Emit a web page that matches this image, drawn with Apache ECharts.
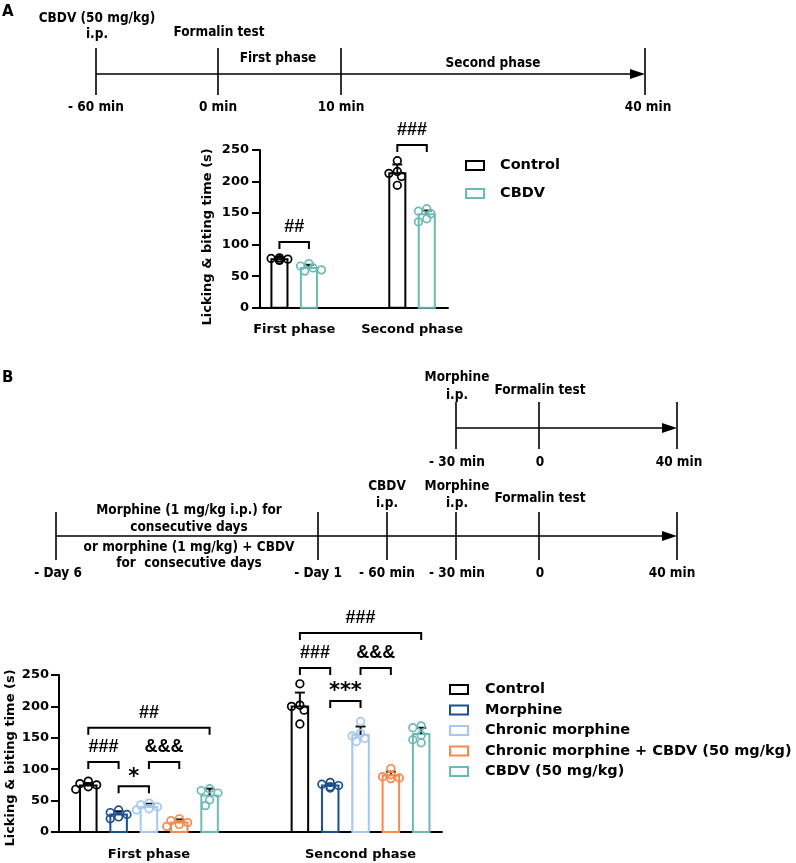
<!DOCTYPE html>
<html><head><meta charset="utf-8">
<script src="https://cdn.jsdelivr.net/npm/echarts@6/dist/echarts.min.js"></script>
<style>html,body{margin:0;padding:0;background:#fff}#c{width:796px;height:863px}</style>
</head><body><div id="c"></div>
<script>
// ---------------- DATA ----------------
// Panel A
const phasesA = ['First phase', 'Second phase'];
const groupsA = ['Control', 'CBDV'];
const meanA = [[77, 213], [63, 148]];           // [group][phase]
const sdA = [[2, 14], [5, 6]];
const dotsA = [
  [[79, 78, 77, 76, 75], [233, 216, 213, 208, 194]],
  [[70, 66, 63, 60, 58], [157, 153, 149, 141, 136]]
];
const bracketsA = [
  { phase: 0, from: 0, to: 1, level: 104, text: '##' },
  { phase: 1, from: 0, to: 1, level: 258, text: '###' }
];
// Panel B
const phasesB = ['First phase', 'Sencond phase'];
const groupsB = ['Control', 'Morphine', 'Chronic morphine', 'Chronic morphine + CBDV (50 mg/kg)', 'CBDV (50 mg/kg)'];
const meanB = [[74, 200], [28, 74], [40, 155], [15, 90], [58, 156]];
const sdB = [[4, 22], [5, 3], [5, 13], [5, 6], [11, 10]];
const dotsB = [
  [[81, 77, 75, 72, 68], [236, 202, 200, 194, 172]],
  [[35, 31, 28, 24, 21], [79, 76, 74, 72, 70]],
  [[46, 43, 40, 37, 35], [176, 157, 153, 149, 144]],
  [[21, 18, 15, 12, 9], [101, 91, 88, 86, 85]],
  [[69, 66, 62, 51, 42], [169, 166, 154, 147, 142]]
];
const bracketsB = [
  { phase: 0, from: 0, to: 4, level: 166, text: '##' },
  { phase: 0, from: 0, to: 1, level: 111.5, text: '###' },
  { phase: 0, from: 1, to: 2, level: 73, text: '*' },
  { phase: 0, from: 2, to: 3, level: 111.5, text: '&&&' },
  { phase: 1, from: 0, to: 4, level: 317, text: '###' },
  { phase: 1, from: 0, to: 1, level: 261, text: '###' },
  { phase: 1, from: 1, to: 2, level: 208.6, text: '***' },
  { phase: 1, from: 2, to: 3, level: 261, text: '&&&' }
];
const yTicksMax = 250;
const yTickStep = 50;
const yName = 'Licking & biting time (s)';

// Timelines (schematic text)
const tlA_ticks = ['- 60 min', '0 min', '10 min', '40 min'];
const tlA_events = [['CBDV (50 mg/kg)', 'i.p.'], ['Formalin test']];
const tlA_phases = ['First phase', 'Second phase'];
const tlB1_ticks = ['- 30 min', '0', '40 min'];
const tlB1_events = [['Morphine', 'i.p.'], ['Formalin test']];
const tlB2_ticks = ['- Day 6', '- Day 1', '- 60 min', '- 30 min', '0', '40 min'];
const tlB2_events = [['CBDV', 'i.p.'], ['Morphine', 'i.p.'], ['Formalin test']];
const tlB2_regimen = ['Morphine (1 mg/kg i.p.) for', 'consecutive days', 'or morphine (1 mg/kg) + CBDV', 'for  consecutive days'];

// ---------------- STYLE / LAYOUT ----------------
const colorsA = ['#000000', '#6cbab5'];
const colorsB = ['#000000', '#1c4f8e', '#a3c8f3', '#f7894c', '#6cbab5'];
const FF = '"DejaVu Sans", sans-serif';
const FONT_T = 'bold 13.5px "DejaVu Sans Condensed", "DejaVu Sans", sans-serif';
const GROUP_UNIT = 100;

const cfgA = { axis: 0, pitch: 25, n: 2, colors: colorsA, dots: dotsA };
const cfgB = { axis: 1, pitch: 14.33, n: 5, colors: colorsB, dots: dotsB };
function offset(cfg, k) { return (k - (cfg.n - 1) / 2) * cfg.pitch; }

function barRenderer(cfg, k) {
  return function (params, api) {
    const i = params.dataIndex;
    const xc = api.value(0) + offset(cfg, k);
    const mean = api.value(1), sd = api.value(2);
    const p0 = api.coord([xc, 0]);
    const pm = api.coord([xc, mean]);
    const pe = api.coord([xc, mean + sd]);
    const bw = api.size([cfg.pitch, 0])[0] * 0.545;
    const color = cfg.colors[k];
    const ch = [];
    ch.push({ type: 'rect', shape: { x: p0[0] - bw / 2, y: pm[1], width: bw, height: p0[1] - pm[1] },
      style: { fill: '#fff', stroke: color, lineWidth: 2 } });
    ch.push({ type: 'line', shape: { x1: p0[0], y1: pm[1], x2: p0[0], y2: pe[1] }, style: { stroke: '#111', lineWidth: 2 } });
    ch.push({ type: 'line', shape: { x1: p0[0] - 5, y1: pe[1], x2: p0[0] + 5, y2: pe[1] }, style: { stroke: '#111', lineWidth: 2 } });
    const r = 3.8, minD = 2 * r * 0.8, step = r * 1.1;
    const placed = [];
    cfg.dots[k][i].forEach(function (v) {
      const y = api.coord([xc, v])[1];
      let chosen = 0;
      const cands = [0, -1, 1, -2, 2, -3, 3];
      for (let c = 0; c < cands.length; c++) {
        const x = cands[c] * step;
        if (placed.every(function (p) { return Math.hypot(p[0] - x, p[1] - y) >= minD; })) { chosen = x; break; }
      }
      placed.push([chosen, y]);
    });
    placed.forEach(function (p) {
      ch.push({ type: 'circle', shape: { cx: p0[0] + p[0], cy: p[1], r: r }, style: { fill: 'none', stroke: color, lineWidth: 1.7 } });
    });
    return { type: 'group', children: ch };
  };
}

function bracketSeries(cfg, brackets) {
  return {
    type: 'custom', silent: true, xAxisIndex: cfg.axis, yAxisIndex: cfg.axis, z: 5,
    encode: { x: [0, 1], y: 2 },
    data: brackets.map(function (b) {
      return [b.phase * GROUP_UNIT + offset(cfg, b.from), b.phase * GROUP_UNIT + offset(cfg, b.to), b.level];
    }),
    renderItem: function (params, api) {
      const b = brackets[params.dataIndex];
      const p1 = api.coord([api.value(0), api.value(2)]);
      const p2 = api.coord([api.value(1), api.value(2)]);
      const leg = 7;
      const star = b.text.indexOf('*') >= 0;
      return { type: 'group', children: [
        { type: 'polyline', shape: { points: [[p1[0], p1[1] + leg], [p1[0], p1[1]], [p2[0], p2[1]], [p2[0], p2[1] + leg]] },
          style: { stroke: '#000', lineWidth: 2, fill: null } },
        { type: 'text', x: (p1[0] + p2[0]) / 2, y: p1[1] - (star ? 9 : 15),
          style: { text: b.text, align: 'center', verticalAlign: 'middle', fill: '#000',
            font: star ? 'bold 21px "DejaVu Sans"' : 'bold 18px "Liberation Sans", Arial' } }
      ] };
    }
  };
}

function groupSeries(cfg, names, means, sds) {
  return names.map(function (name, k) {
    return {
      type: 'custom', name: name, xAxisIndex: cfg.axis, yAxisIndex: cfg.axis, z: 3,
      itemStyle: { color: cfg.colors[k] },
      encode: { x: 0, y: 1 },
      data: means[k].map(function (m, i) { return [i * GROUP_UNIT, m, sds[k][i]]; }),
      renderItem: barRenderer(cfg, k)
    };
  });
}

function xAxisFor(grid, phases, min, max, margin) {
  return {
    gridIndex: grid, type: 'value', min: min, max: max, interval: 0.5,
    axisLine: { show: true, onZero: false, lineStyle: { color: '#000', width: 2 } },
    axisTick: { show: false }, splitLine: { show: false },
    axisLabel: { color: '#000', fontFamily: FF, fontWeight: 'bold', fontSize: 13, margin: margin,
      formatter: function (v) {
        const i = Math.round(v / GROUP_UNIT);
        return (Math.abs(v - i * GROUP_UNIT) < 1e-6 && i >= 0 && i < phases.length) ? phases[i] : '';
      } }
  };
}
function yAxisFor(grid, gap, pad, margin) {
  return {
    gridIndex: grid, type: 'value', min: 0, max: yTicksMax, interval: yTickStep,
    axisLine: { show: true, onZero: false, lineStyle: { color: '#000', width: 2 } },
    axisTick: { show: true, length: 8, lineStyle: { color: '#000', width: 2 } },
    splitLine: { show: false },
    axisLabel: { color: '#000', fontFamily: FF, fontWeight: 'bold', fontSize: 13, margin: margin },
    name: yName, nameLocation: 'middle', nameGap: gap, nameMoveOverlap: false,
    nameTextStyle: { color: '#000', fontFamily: FF, fontWeight: 'bold', fontSize: 13, padding: [0, pad, 0, 0] }
  };
}
function legendFor(names, colors, left, top, gap, pad) {
  return {
    orient: 'vertical', left: left, top: top, padding: 0, itemWidth: 18, itemHeight: 9, itemGap: gap,
    selectedMode: false,
    textStyle: { color: '#000', fontFamily: FF, fontWeight: 'bold', fontSize: 14.5, padding: [0, 0, 0, pad] },
    data: names.map(function (n, k) {
      return { name: n, icon: 'rect', itemStyle: { color: '#fff', borderColor: colors[k], borderWidth: 2 } };
    })
  };
}

// ---------------- TIMELINE GRAPHICS ----------------
function L(x1, y1, x2, y2) { return { type: 'line', shape: { x1: x1, y1: y1, x2: x2, y2: y2 }, style: { stroke: '#000', lineWidth: 1.6 } }; }
function T(s, x, y, font) { return { type: 'text', x: x, y: y, style: { text: s, align: 'center', verticalAlign: 'middle', fill: '#000', font: font || FONT_T } }; }
function arrow(x, y) { return { type: 'polygon', shape: { points: [[x - 15, y - 5], [x, y], [x - 15, y + 5]] }, style: { fill: '#000' } }; }

const G = [];
// Panel labels
G.push({ type: 'text', x: 2, y: 12, style: { text: 'A', verticalAlign: 'middle', fill: '#000', font: 'bold 15px "DejaVu Sans"' } });
G.push({ type: 'text', x: 2, y: 378, style: { text: 'B', verticalAlign: 'middle', fill: '#000', font: 'bold 15px "DejaVu Sans"' } });
// Timeline A
(function () {
  const xs = [96, 218, 341, 645], lx = [96, 218, 341, 648];
  xs.forEach(function (x) { G.push(L(x, 48, x, 95)); });
  G.push(L(xs[0], 74, xs[3] - 10, 74)); G.push(arrow(xs[3], 74));
  tlA_ticks.forEach(function (t, i) { G.push(T(t, lx[i], 107)); });
  const ex = [97, 219], ey = [[18, 34], [32]];
  tlA_events.forEach(function (ev, i) { ev.forEach(function (s, j) { G.push(T(s, ex[i], ey[i][j])); }); });
  const px = [278, 493], py = [58, 63];
  tlA_phases.forEach(function (s, i) { G.push(T(s, px[i], py[i])); });
})();
// Timeline B1
(function () {
  const xs = [456, 539, 677], lx = [457, 540, 679];
  xs.forEach(function (x) { G.push(L(x, 402, x, 449)); });
  G.push(L(xs[0], 428, xs[2] - 10, 428)); G.push(arrow(xs[2], 428));
  tlB1_ticks.forEach(function (t, i) { G.push(T(t, lx[i], 462)); });
  const ex = [457, 540], ey = [[377, 395], [390]];
  tlB1_events.forEach(function (ev, i) { ev.forEach(function (s, j) { G.push(T(s, ex[i], ey[i][j])); }); });
})();
// Timeline B2
(function () {
  const xs = [56, 318, 387, 456, 539, 677], lx = [58, 318, 387, 457, 540, 672];
  xs.forEach(function (x) { G.push(L(x, 512, x, 560)); });
  G.push(L(xs[0], 536, xs[5] - 10, 536)); G.push(arrow(xs[5], 536));
  tlB2_ticks.forEach(function (t, i) { G.push(T(t, lx[i], 573)); });
  const ex = [387, 457, 540], ey = [[486, 503], [486, 503], [498]];
  tlB2_events.forEach(function (ev, i) { ev.forEach(function (s, j) { G.push(T(s, ex[i], ey[i][j])); }); });
  const ry = [510, 527, 547, 563];
  tlB2_regimen.forEach(function (s, i) { G.push(T(s, 189, ry[i])); });
})();

// ---------------- CHART ----------------
const chart = echarts.init(document.getElementById('c'), null, { renderer: 'canvas' });
chart.setOption({
  animation: false,
  backgroundColor: '#fff',
  grid: [
    { left: 260, top: 150, width: 188, height: 157.7, outerBoundsMode: 'none', containLabel: false },
    { left: 59, top: 675, width: 383, height: 157, outerBoundsMode: 'none', containLabel: false }
  ],
  xAxis: [xAxisFor(0, phasesA, -29, 130.5, 15), xAxisFor(1, phasesB, -42.5, 138.5, 16)],
  yAxis: [yAxisFor(0, 45.5, 16, 11), yAxisFor(1, 42, 9, 10)],
  legend: [legendFor(groupsA, colorsA, 465, 158, 13, 11), legendFor(groupsB, colorsB, 449, 682, 5.5, 12)],
  graphic: { elements: G },
  series: [].concat(
    groupSeries(cfgA, groupsA, meanA, sdA),
    [bracketSeries(cfgA, bracketsA)],
    groupSeries(cfgB, groupsB, meanB, sdB),
    [bracketSeries(cfgB, bracketsB)]
  )
});
</script></body></html>
